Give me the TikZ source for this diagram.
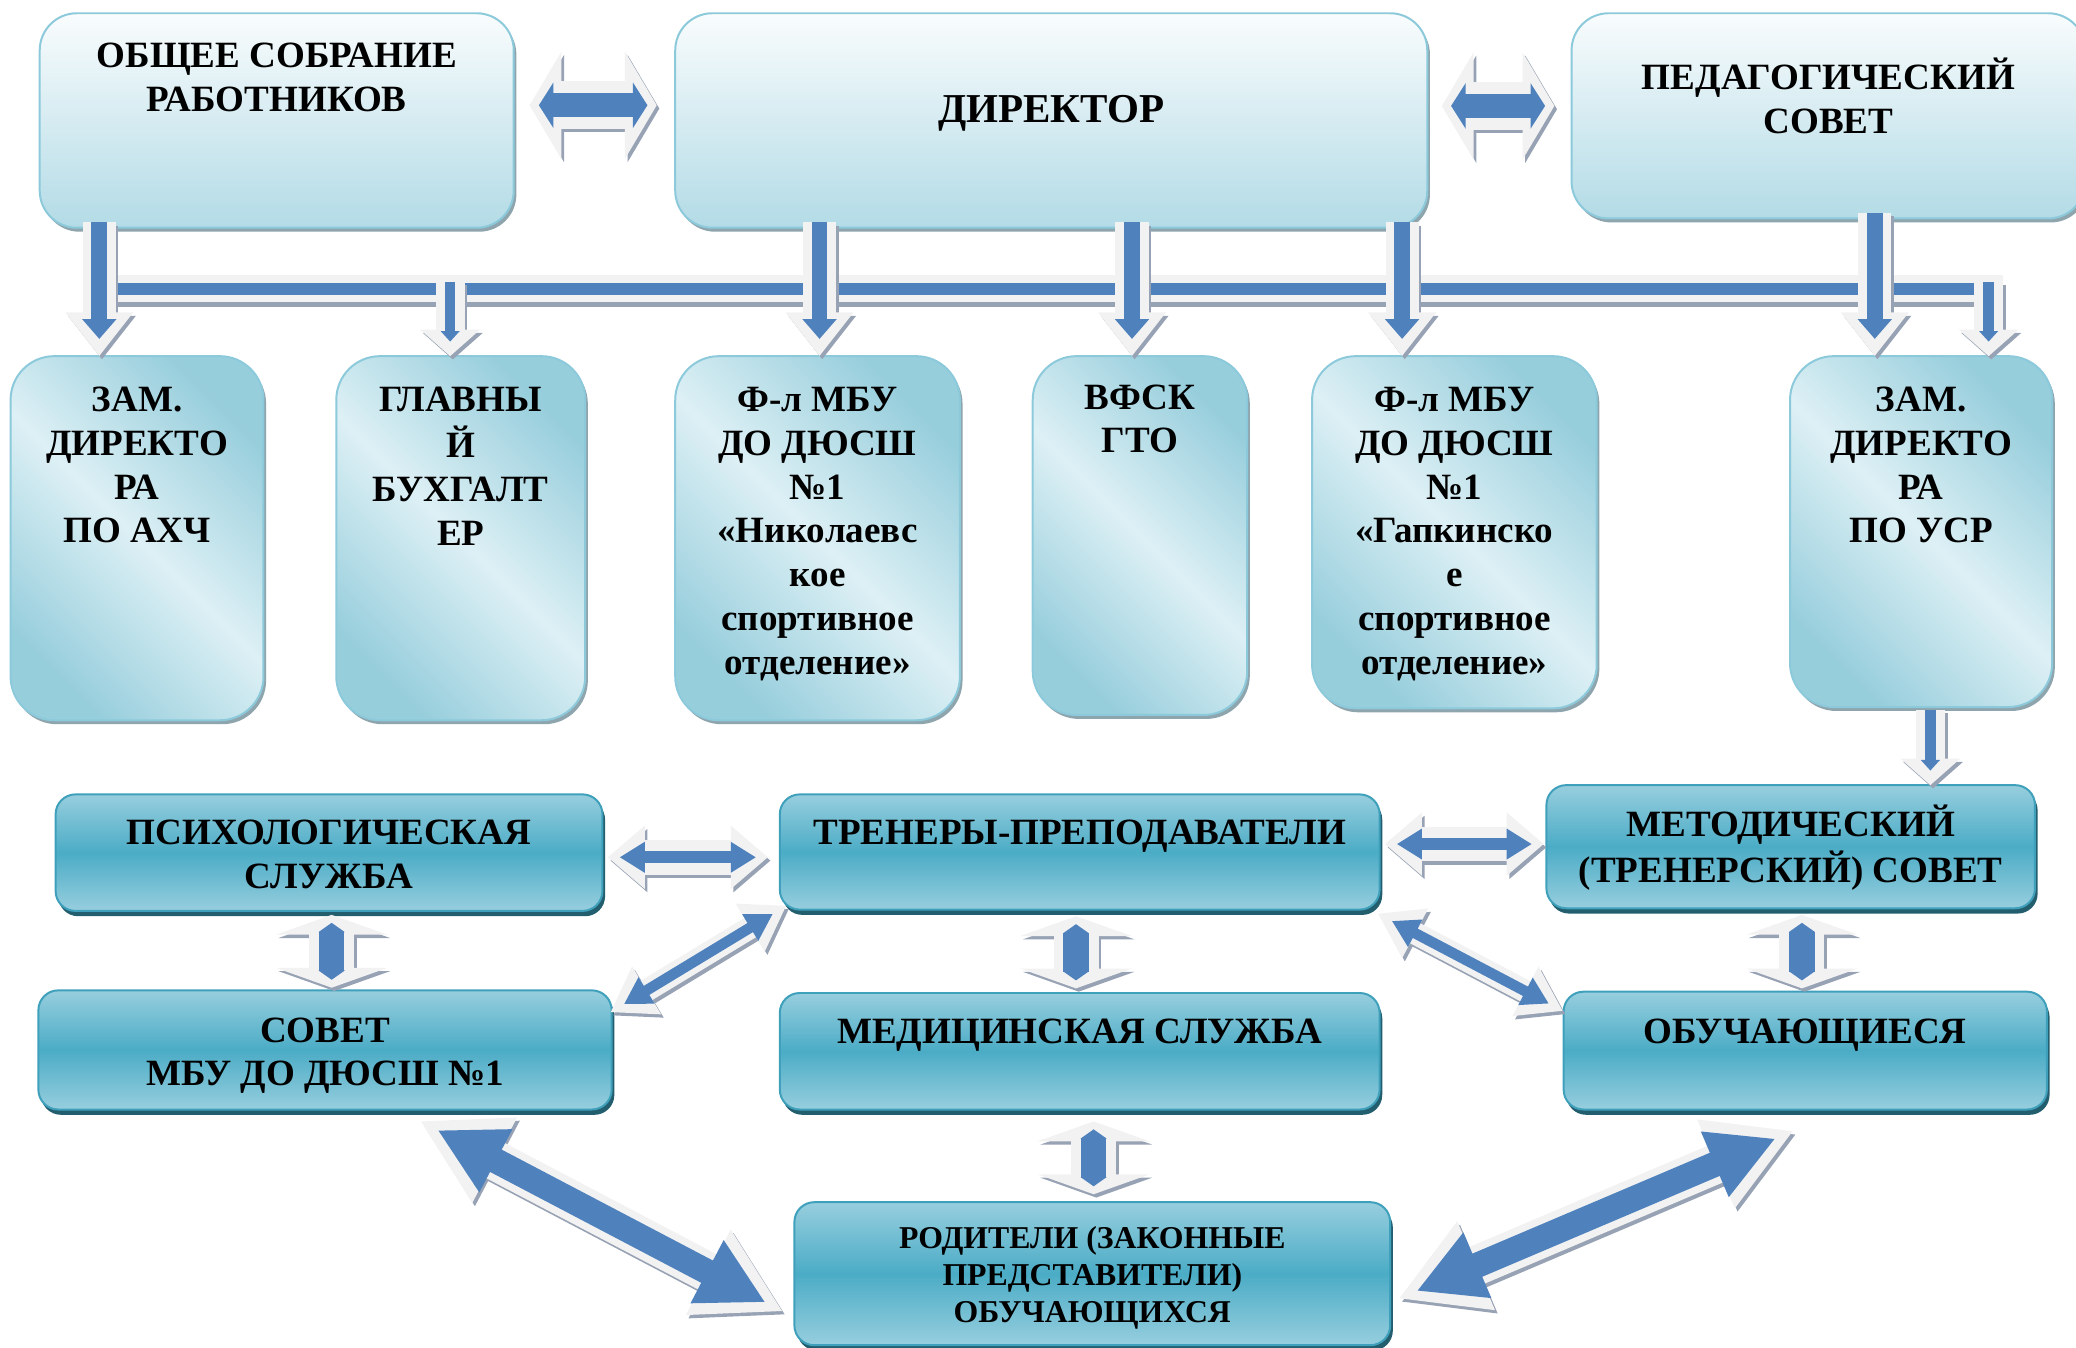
\documentclass[tikz,border=0pt]{standalone}
\usepackage{fontspec}
\setmainfont{Liberation Serif}
\usetikzlibrary{arrows.meta,shadows,calc}
\definecolor{ablue}{HTML}{4F81BD}
\definecolor{alight}{HTML}{F2F2F2}
\definecolor{ashade}{HTML}{97A2B4}
\definecolor{tbtop}{HTML}{F9FCFD}
\definecolor{tbbot}{HTML}{B3DBE6}
\definecolor{tbline}{HTML}{8CCADB}
\definecolor{vbdark}{HTML}{97CEDC}
\definecolor{vblight}{HTML}{DDF0F5}
\definecolor{lbedge}{HTML}{97CEDE}
\definecolor{lbmid}{HTML}{4BACC6}
\definecolor{lbline}{HTML}{3FA0BB}
\definecolor{lbshadow}{HTML}{235E6F}
\definecolor{bxshadow}{HTML}{8EA5AE}
\tikzset{
  basebox/.style={inner sep=0pt, outer sep=0pt, text=black,
    font=\bfseries\fontsize{28}{33}\selectfont},
  topbox/.style={basebox, rounded corners=28pt, draw=tbline, line width=1.5pt,
    top color=tbtop, bottom color=tbbot,
    drop shadow={shadow xshift=2pt, shadow yshift=-3pt, fill=bxshadow, opacity=1}},
  vbox/.style={basebox, rounded corners=33pt, draw=tbline, line width=1.5pt,
    top color=vbdark, bottom color=vbdark, middle color=vblight, shading angle=-45,
    drop shadow={shadow xshift=2pt, shadow yshift=-3pt, fill=bxshadow, opacity=1}},
  lowbox/.style={basebox, rounded corners=15pt, draw=lbline, line width=1.5pt,
    top color=lbedge, bottom color=lbedge, middle color=lbmid,
    drop shadow={shadow xshift=2pt, shadow yshift=-4pt, fill=lbshadow, opacity=1}},
  blk/.style n args={7}{draw=ablue, line width=#4,
    arrows={-Triangle[width=#5,length=#6]}, shorten >=#7,
    preaction={draw=ashade, line width=#1, arrows={-Triangle[width=#2,length=#3]},
      shorten >=0pt, transform canvas={shift={(2pt,-2.5pt)}}},
    preaction={draw=alight, line width=#1, arrows={-Triangle[width=#2,length=#3]},
      shorten >=0pt}},
  dblk/.style n args={7}{draw=ablue, line width=#4,
    arrows={Triangle[width=#5,length=#6]-Triangle[width=#5,length=#6]},
    shorten >=#7, shorten <=#7,
    preaction={draw=ashade, line width=#1,
      arrows={Triangle[width=#2,length=#3]-Triangle[width=#2,length=#3]},
      shorten >=0pt, shorten <=0pt, transform canvas={shift={(2pt,-2.5pt)}}},
    preaction={draw=alight, line width=#1,
      arrows={Triangle[width=#2,length=#3]-Triangle[width=#2,length=#3]},
      shorten >=0pt, shorten <=0pt}},
  barline/.style={draw=ablue, line width=9pt,
    preaction={draw=ashade, line width=20pt, transform canvas={shift={(0pt,-4pt)}}},
    preaction={draw=alight, line width=20pt}},
  topdbl/.style={dblk={36pt}{80pt}{24pt}{18pt}{34pt}{11pt}{7pt}},
  bigdown/.style={blk={25pt}{49pt}{33pt}{12pt}{25pt}{15pt}{13pt}},
  smalldown/.style={blk={22pt}{44pt}{20pt}{8pt}{14pt}{8pt}{11pt}},
  lowdbl/.style={dblk={26pt}{46pt}{28pt}{9pt}{22pt}{19pt}{9pt}},
  vdbl/.style={dblk={34pt}{84pt}{15pt}{19pt}{19.5pt}{7pt}{6pt}},
  thindiag/.style={dblk={17pt}{40pt}{32pt}{8pt}{22pt}{20pt}{12pt}},
  bigdiag/.style={dblk={30pt}{68pt}{64pt}{19pt}{50pt}{50pt}{15pt}},
}
\newcommand\bx[8]{\node[#1] (#2) at ({(#3+#5)/2},{(#4+#6)/2})
  {\parbox[c][\dimexpr#6pt-#4pt\relax][t]{\dimexpr#5pt-#3pt\relax}{\centering\vspace*{#7pt}\strut #8\par}};}
\begin{document}
\begin{tikzpicture}[x=1pt,y=-1pt]
\useasboundingbox (0,0) rectangle (1568,1018);
% top row
\bx{topbox}{A}{30}{10}{388}{172}{18}{ОБЩЕЕ СОБРАНИЕ\\РАБОТНИКОВ}
\bx{topbox, font=\bfseries\fontsize{31}{36}\selectfont}{B}{510}{10}{1078}{172}{57}{ДИРЕКТОР}
\bx{topbox}{C}{1187}{10}{1575}{165}{34}{ПЕДАГОГИЧЕСКИЙ\\СОВЕТ}
% second row
\bx{vbox}{Z1}{8}{269}{199}{544}{19}{ЗАМ.\\ДИРЕКТО\\РА\\ПО АХЧ}
\bx{vbox}{Z2}{254}{269}{442}{544}{19}{ГЛАВНЫ\\Й\\БУХГАЛТ\\ЕР}
\bx{vbox}{Z3}{510}{269}{725}{544}{19}{Ф-л МБУ\\ДО ДЮСШ\\№1\\«Николаевс\\кое\\спортивное\\отделение»}
\bx{vbox}{Z4}{780}{269}{942}{540}{17}{ВФСК\\ГТО}
\bx{vbox}{Z5}{991}{269}{1206}{535}{19}{Ф-л МБУ\\ДО ДЮСШ\\№1\\«Гапкинско\\е\\спортивное\\отделение»}
\bx{vbox}{Z6}{1352}{269}{1550}{534}{19}{ЗАМ.\\ДИРЕКТО\\РА\\ПО УСР}
% lower rows
\bx{lowbox}{PSY}{42}{600}{455}{688}{15}{ПСИХОЛОГИЧЕСКАЯ\\СЛУЖБА}
\bx{lowbox}{TRN}{589}{600}{1042}{687}{15}{ТРЕНЕРЫ-ПРЕПОДАВАТЕЛИ}
\bx{lowbox}{MET}{1168}{593}{1537}{686}{15}{МЕТОДИЧЕСКИЙ\\(ТРЕНЕРСКИЙ) СОВЕТ}
\bx{lowbox}{SOV}{29}{748}{462}{838}{16}{СОВЕТ\\МБУ ДО ДЮСШ №1}
\bx{lowbox}{MED}{589}{750}{1042}{838}{15}{МЕДИЦИНСКАЯ СЛУЖБА}
\bx{lowbox}{STU}{1181}{749}{1546}{838}{16}{ОБУЧАЮЩИЕСЯ}
\bx{lowbox, font=\bfseries\fontsize{24}{28}\selectfont}{PAR}{600}{908}{1050}{1016}{15.3}{РОДИТЕЛИ (ЗАКОННЫЕ\\ПРЕДСТАВИТЕЛИ)\\ОБУЧАЮЩИХСЯ}
% horizontal bar
\coordinate (bar1) at (75,218);
\coordinate (bar2) at (1513,218);
\draw[barline] (bar1) -- (bar2);
% top double arrows
\draw[topdbl] ($(A.east|-0,79.5)+(12,0)$) -- ($(B.west|-0,79.5)+(-14,0)$);
\draw[topdbl] ($(B.east|-0,80)+(11,0)$) -- ($(C.west|-0,80)+(-13,0)$);
% down arrows
\draw[bigdown] ($(A.south-|75,0)+(0,-4)$) -- (Z1.north-|75,0);
\draw[bigdown] ($(B.south-|619,0)+(0,-4)$) -- (Z3.north-|619,0);
\draw[bigdown] ($(B.south-|855,0)+(0,-4)$) -- (Z4.north-|855,0);
\draw[bigdown] ($(B.south-|1059,0)+(0,-4)$) -- (Z5.north-|1059,0);
\draw[bigdown] ($(C.south-|1416,0)+(0,-4)$) -- (Z6.north-|1416,0);
\draw[smalldown] ($(bar1-|340,0)+(0,-5)$) -- (Z2.north-|340,0);
\draw[smalldown] ($(bar2-|1502,0)+(0,-5)$) -- (Z6.north-|1502,0);
\draw[smalldown] ($(Z6.south-|1458,0)+(0,2)$) -- (MET.north-|1458,0);
% lower horizontal double arrows
\draw[lowdbl] ($(PSY.east|-0,647.5)+(4,0)$) -- ($(TRN.west|-0,647.5)+(-9,0)$);
\draw[lowdbl] ($(TRN.east|-0,637.5)+(4,0)$) -- ($(MET.west|-0,637.5)+(-2,0)$);
% vertical double arrows
\draw[vdbl] ($(PSY.south-|250.5,0)+(0,3)$) -- ($(SOV.north-|250.5,0)+(0,-2)$);
\draw[vdbl] ($(TRN.south-|812.7,0)+(0,5)$) -- ($(MED.north-|812.7,0)+(0,-3.5)$);
\draw[vdbl] ($(MET.south-|1361,0)+(0,5)$) -- ($(STU.north-|1361,0)+(0,-2.5)$);
\draw[vdbl] ($(MED.south-|826,0)+(0,9)$) -- ($(PAR.north-|826,0)+(0,-6)$);
% diagonal arrows
\draw[thindiag] ($(TRN.south west)+(5,-3)$) -- ($(SOV.north east)+(-1,16.6)$);
\draw[thindiag] ($(TRN.south east)+(-1.4,3)$) -- ($(STU.north west)+(-0.5,14.6)$);
\draw[bigdiag] ($(SOV.south east)+(-145,8.5)$) -- ($(PAR.west)+(-8.4,28.7)$);
\draw[bigdiag] ($(PAR.east)+(6,19)$) -- ($(STU.south)+(-8.5,16)$);
\end{tikzpicture}
\end{document}
